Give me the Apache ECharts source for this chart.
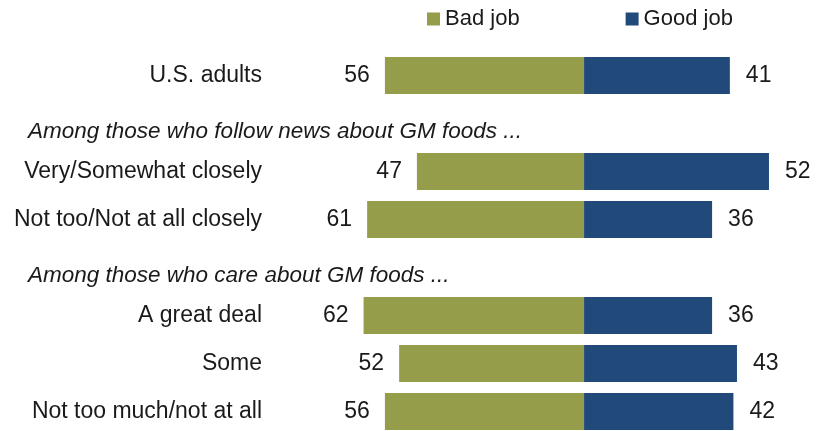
<!DOCTYPE html>
<html>
<head>
<meta charset="utf-8">
<script src="https://cdn.jsdelivr.net/npm/echarts@6/dist/echarts.min.js"></script>
<style>html,body{margin:0;padding:0;background:#fff}#c{width:822px;height:431px}</style>
</head>
<body>
<div id="c"></div>
<script>
const categories = ['U.S. adults', 'H1', 'Very/Somewhat closely', 'Not too/Not at all closely', 'H2', 'A great deal', 'Some', 'Not too much/not at all'];
const headers = {
  'H1': 'Among those who follow news about GM foods ...',
  'H2': 'Among those who care about GM foods ...'
};
const badJob = [56, null, 47, 61, null, 62, 52, 56];
const goodJob = [41, null, 52, 36, null, 36, 43, 42];
const seriesNames = ['Bad job', 'Good job'];

const GREEN = '#959D4B', BLUE = '#214A7B';
const FONT = '"Liberation Sans", Arial, sans-serif';

const chart = echarts.init(document.getElementById('c'), null, {renderer: 'canvas'});
chart.setOption({
  animation: false,
  textStyle: {fontFamily: FONT},
  legend: {
    left: 427, top: 8, padding: 0,
    itemWidth: 13, itemHeight: 13, itemGap: 106,
    icon: 'rect',
    textStyle: {fontSize: 22, color: '#1a1a1a', fontFamily: FONT},
    data: seriesNames
  },
  grid: {left: 264, top: 51.5, width: 569, height: 384, containLabel: false, outerBoundsMode: 'none'},
  xAxis: {
    type: 'value', min: -90, max: 70, show: false
  },
  yAxis: {
    type: 'category', inverse: true, data: categories,
    axisLine: {show: false}, axisTick: {show: false}, splitLine: {show: false},
    axisLabel: {
      margin: 2, fontSize: 23, color: '#1a1a1a', fontFamily: FONT,
      formatter: v => headers[v] ? '' : v
    }
  },
  series: [
    {
      name: seriesNames[0], type: 'bar', stack: 'a', barWidth: 37,
      itemStyle: {color: GREEN},
      data: badJob.map(v => v == null ? null : -v),
      label: {show: true, position: 'left', distance: 15, fontSize: 23, color: '#1a1a1a', fontFamily: FONT,
        formatter: p => Math.abs(p.value)}
    },
    {
      name: seriesNames[1], type: 'bar', stack: 'a', barWidth: 37,
      itemStyle: {color: BLUE},
      data: goodJob,
      label: {show: true, position: 'right', distance: 16, fontSize: 23, color: '#1a1a1a', fontFamily: FONT}
    }
  ]
});

const g = [];
categories.forEach(c => {
  if (headers[c]) {
    const y = chart.convertToPixel({yAxisIndex: 0}, c);
    g.push({type: 'text', x: 28, y: y + 8,
      style: {text: headers[c], font: 'italic 22.5px ' + FONT, fill: '#1a1a1a', verticalAlign: 'middle'}});
  }
});
chart.setOption({graphic: g});
</script>
</body>
</html>
